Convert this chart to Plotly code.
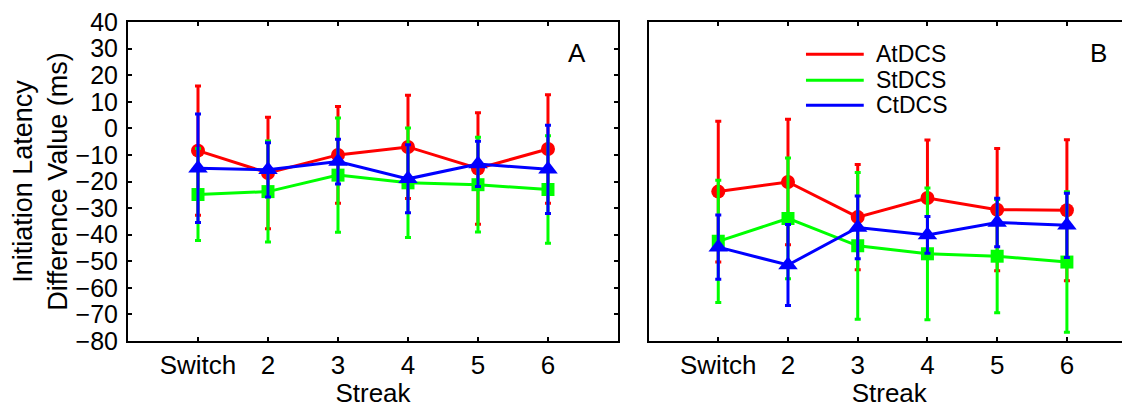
import plotly.graph_objects as go

categories = ["Switch", "2", "3", "4", "5", "6"]
x_pos = [1, 2, 3, 4, 5, 6]

# Panel A values (mean, error)
at_a = [-8.4, -16.8, -10.0, -7.0, -15.1, -7.8]
at_a_err = [24.3, 21.0, 18.2, 19.4, 21.0, 20.4]
st_a = [-24.9, -23.8, -17.6, -20.5, -21.2, -23.0]
st_a_err = [17.3, 19.0, 21.5, 20.6, 17.8, 20.2]
ct_a = [-15.0, -15.6, -12.5, -19.0, -13.4, -15.4]
ct_a_err = [20.4, 10.2, 8.4, 12.8, 8.5, 16.6]

# Panel B values (mean, error)
at_b = [-23.8, -20.2, -33.4, -26.2, -30.6, -30.8]
at_b_err = [26.5, 23.6, 19.8, 21.8, 23.0, 26.5]
st_b = [-42.5, -33.9, -44.2, -47.2, -48.1, -50.3]
st_b_err = [23.0, 22.7, 27.6, 24.8, 21.3, 26.4]
ct_b = [-44.7, -51.4, -37.3, -40.1, -35.4, -36.5]
ct_b_err = [12.1, 15.2, 11.8, 6.9, 9.1, 12.1]

series_names = ["AtDCS", "StDCS", "CtDCS"]
colors = ["#ff0000", "#00ff00", "#0000ff"]
symbols = ["circle", "square", "triangle-up"]
msizes = [14, 13, 17]

FONT = "Liberation Sans, Arial, sans-serif"

fig = go.Figure()

panels = [
    ("x", "y", [at_a, st_a, ct_a], [at_a_err, st_a_err, ct_a_err]),
    ("x2", "y2", [at_b, st_b, ct_b], [at_b_err, st_b_err, ct_b_err]),
]
for xa, ya, vals, errs in panels:
    for i in range(3):
        fig.add_trace(go.Scatter(
            x=x_pos, y=vals[i], xaxis=xa, yaxis=ya,
            mode="lines+markers", name=series_names[i], showlegend=False,
            line=dict(color=colors[i], width=3),
            marker=dict(symbol=symbols[i], size=msizes[i], color=colors[i],
                        line=dict(width=0)),
            error_y=dict(type="data", array=errs[i], visible=True,
                         color=colors[i], thickness=3, width=3),
        ))

axis_common = dict(
    showgrid=False, zeroline=False, showline=True, linecolor="black",
    linewidth=2, ticks="inside", ticklen=4, tickwidth=1.5, tickcolor="black",
    ticklabeloverflow="allow",
)
xfont = dict(family=FONT, size=26, color="black")
yfont = dict(family=FONT, size=25, color="black")

# The page body adds an 8px margin, so the figure is 8px smaller each way
fig.update_layout(
    width=1122, height=400,
    margin=dict(l=118, r=0, t=13, b=67),
    paper_bgcolor="white", plot_bgcolor="white",
    showlegend=False,
    xaxis=dict(domain=[0, 0.489], range=[0, 7], tickmode="array",
               tickvals=x_pos, ticktext=categories, mirror="ticks",
               ticklabelstandoff=0, tickfont=xfont,
               title=dict(text="Streak", standoff=2, font=xfont),
               **axis_common),
    yaxis=dict(domain=[0, 1], range=[-80, 40], dtick=10, mirror="ticks",
               ticklabelstandoff=3, tickfont=yfont,
               title=dict(text="Initiation Latency<br>Difference Value (ms)",
                          standoff=14,
                          font=dict(family=FONT, size=27, color="black")),
               **axis_common),
    xaxis2=dict(domain=[0.5195, 1], range=[0, 6.905], tickmode="array",
                tickvals=x_pos, ticktext=categories, mirror="ticks",
                anchor="y2", ticklabelstandoff=0, tickfont=xfont,
                title=dict(text="Streak", standoff=2, font=xfont),
                **axis_common),
    yaxis2=dict(domain=[0, 1], range=[-80, 40], anchor="x2",
                showgrid=False, zeroline=False, showline=True,
                linecolor="black", linewidth=2, ticks="",
                showticklabels=False, mirror=False),
)

# Panel letters
fig.add_annotation(text="A", xref="x domain", yref="y domain", x=0.917, y=0.904,
                   xanchor="center", yanchor="middle", showarrow=False,
                   font=dict(family=FONT, size=26, color="black"))
fig.add_annotation(text="B", xref="x2 domain", yref="y2 domain", x=0.934, y=0.904,
                   xanchor="center", yanchor="middle", showarrow=False,
                   font=dict(family=FONT, size=26, color="black"))

# Legend drawn inside panel B
leg_y = [0.899, 0.8175, 0.739]
for i in range(3):
    fig.add_shape(type="line", xref="x2 domain", yref="y2 domain",
                  x0=0.327, x1=0.447, y0=leg_y[i], y1=leg_y[i],
                  line=dict(color=colors[i], width=3))
    fig.add_annotation(text=series_names[i], xref="x2 domain", yref="y2 domain",
                       x=0.468, y=leg_y[i], xanchor="left", yanchor="middle",
                       showarrow=False,
                       font=dict(family=FONT, size=23, color="black"))

fig.write_html("out.html", config=dict(displayModeBar=False))
